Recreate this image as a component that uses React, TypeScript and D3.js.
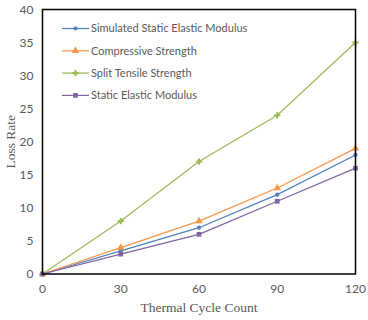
import React, { useEffect, useRef } from "react";
import * as d3 from "d3";

const cycles = [0, 30, 60, 90, 120];
const simulatedModulus = [0, 3.5, 7, 12, 18];
const compressive = [0, 4, 8, 13, 19];
const splitTensile = [0, 8, 17, 24, 35];
const staticModulus = [0, 3, 6, 11, 16];
const xTicks = [0, 30, 60, 90, 120];
const yTicks = [0, 5, 10, 15, 20, 25, 30, 35, 40];

const series = [
  { name: "Simulated Static Elastic Modulus", values: simulatedModulus, color: "#4F81BD", symbol: d3.symbolCircle, size: 14 },
  { name: "Compressive Strength", values: compressive, color: "#F79646", symbol: d3.symbolTriangle, size: 24 },
  { name: "Split Tensile Strength", values: splitTensile, color: "#9BBB59", symbol: d3.symbolCross, size: 22 },
  { name: "Static Elastic Modulus", values: staticModulus, color: "#8064A2", symbol: d3.symbolSquare, size: 22 },
];

export default function App() {
  const svgRef = useRef<SVGSVGElement | null>(null);

  useEffect(() => {
    if (!svgRef.current) return;
    const width = 368;
    const height = 320;
    const margin = { top: 9.5, right: 12.5, bottom: 46, left: 42.5 };

    const svg = d3.select(svgRef.current);
    svg.selectAll("*").remove();
    svg.attr("width", width).attr("height", height);

    const x = d3.scaleLinear().domain([0, 120]).range([margin.left, width - margin.right]);
    const y = d3.scaleLinear().domain([0, 40]).range([height - margin.bottom, margin.top]);

    const tickFont = "Lato, 'Liberation Sans', sans-serif";

    svg
      .append("g")
      .selectAll("text")
      .data(yTicks)
      .join("text")
      .attr("x", margin.left - 9)
      .attr("y", (d) => y(d))
      .attr("dy", "0.35em")
      .attr("text-anchor", "end")
      .attr("font-family", tickFont)
      .attr("font-size", 12)
      .attr("fill", "#595959")
      .text((d) => d);

    svg
      .append("g")
      .selectAll("text")
      .data(xTicks)
      .join("text")
      .attr("x", (d) => x(d))
      .attr("y", height - margin.bottom + 19)
      .attr("text-anchor", "middle")
      .attr("font-family", tickFont)
      .attr("font-size", 12)
      .attr("fill", "#595959")
      .text((d) => d);

    const line = d3
      .line<number>()
      .x((_, i) => x(cycles[i]))
      .y((d) => y(d));

    series.forEach((s) => {
      svg
        .append("path")
        .attr("d", line(s.values))
        .attr("fill", "none")
        .attr("stroke", s.color)
        .attr("stroke-width", 1.25);
      svg
        .append("g")
        .selectAll("path")
        .data(s.values)
        .join("path")
        .attr("transform", (d, i) => `translate(${x(cycles[i])},${y(d)})`)
        .attr("d", d3.symbol().type(s.symbol).size(s.size)())
        .attr("fill", s.color);
    });

    svg
      .append("rect")
      .attr("x", margin.left)
      .attr("y", margin.top)
      .attr("width", width - margin.left - margin.right)
      .attr("height", height - margin.top - margin.bottom)
      .attr("fill", "none")
      .attr("stroke", "#000")
      .attr("stroke-width", 1.5);

    const legend = svg.append("g");
    series.forEach((s, i) => {
      const ly = 28.5 + i * 22.3;
      legend
        .append("line")
        .attr("x1", 62)
        .attr("x2", 89)
        .attr("y1", ly)
        .attr("y2", ly)
        .attr("stroke", s.color)
        .attr("stroke-width", 1.25);
      legend
        .append("path")
        .attr("transform", `translate(75.5,${ly})`)
        .attr("d", d3.symbol().type(s.symbol).size(s.size)())
        .attr("fill", s.color);
      legend
        .append("text")
        .attr("x", 91)
        .attr("y", ly)
        .attr("dy", "0.35em")
        .attr("font-family", tickFont)
        .attr("font-size", 11)
        .attr("fill", "#595959")
        .text(s.name);
    });

    svg
      .append("text")
      .attr("x", (margin.left + width - margin.right) / 2)
      .attr("y", 312)
      .attr("text-anchor", "middle")
      .attr("font-family", "'Liberation Serif', 'Times New Roman', serif")
      .attr("font-size", 13.5)
      .attr("fill", "#595959")
      .text("Thermal Cycle Count");

    svg
      .append("text")
      .attr("transform", `translate(15,${(margin.top + height - margin.bottom) / 2}) rotate(-90)`)
      .attr("text-anchor", "middle")
      .attr("font-family", "'Liberation Serif', 'Times New Roman', serif")
      .attr("font-size", 13.5)
      .attr("fill", "#595959")
      .text("Loss Rate");
  }, []);

  return (
    <div style={{ position: "absolute", left: 0, top: 0 }}>
      <svg ref={svgRef} />
    </div>
  );
}
